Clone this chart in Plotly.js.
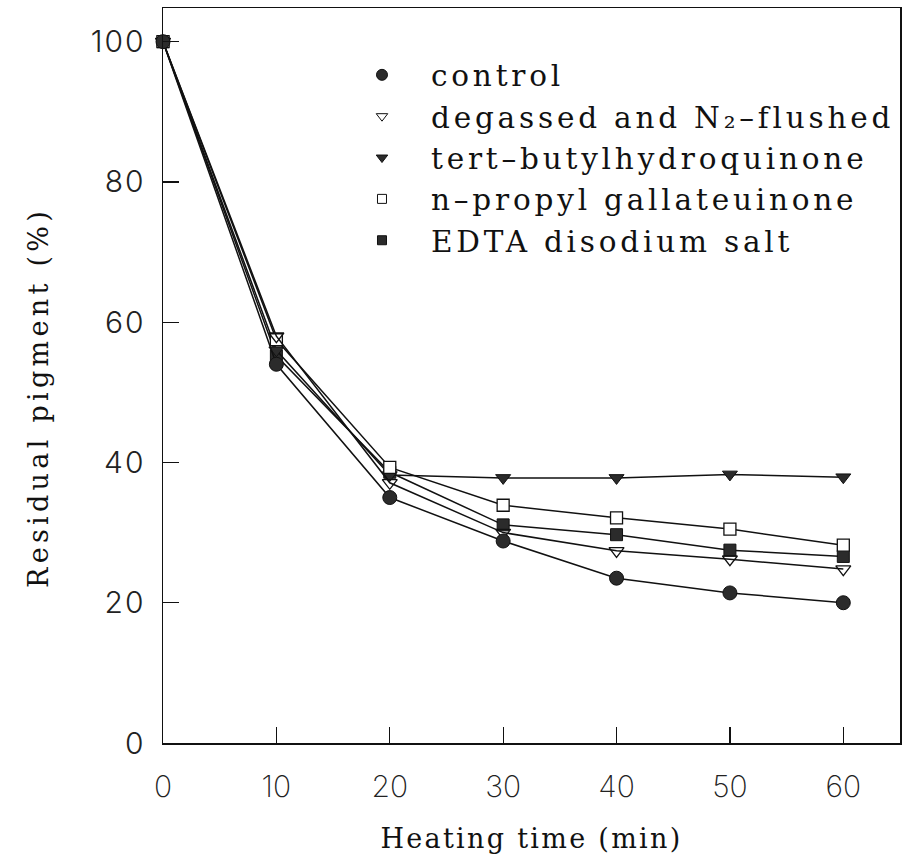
<!DOCTYPE html>
<html>
<head>
<meta charset="utf-8">
<script src="https://cdn.plot.ly/plotly-3.0.1.min.js"></script>
<style>
html,body{margin:0;padding:0;background:#fff;}
#chart{width:902px;height:866px;}
#chart .legendtext{letter-spacing:3.8px;transform:translateX(29px);}
#chart .g-xtitle text{letter-spacing:2.3px;}
#chart .annotation-text{letter-spacing:4.3px;}
#chart .ytick text{letter-spacing:2px;}
</style>
</head>
<body>
<div id="chart"></div>
<script>
const heatingTime = [0, 10, 20, 30, 40, 50, 60];
const seriesNames = ["control", "degassed and N\u2082\u2013flushed", "tert\u2013butylhydroquinone", "n\u2013propyl gallateuinone", "EDTA disodium salt"];
const control   = [100, 54.0, 35.0, 28.8, 23.5, 21.4, 20.0];
const degassed  = [100, 58.0, 37.1, 30.0, 27.4, 26.2, 24.8];
const tbhq      = [100, 56.0, 38.2, 37.8, 37.8, 38.3, 37.9];
const propyl    = [100, 57.5, 39.3, 33.9, 32.1, 30.5, 28.2];
const edta      = [100, 55.2, 38.6, 31.1, 29.7, 27.5, 26.6];
const xTicks = [0, 10, 20, 30, 40, 50, 60];
const yTicks = [0, 20, 40, 60, 80, 100];
const xTitle = 'Heating time (min)';
const yTitle = 'Residual pigment (%)';

const seriesValues = [control, degassed, tbhq, propyl, edta];
const markerStyles = [
  {symbol: 'circle', size: 14, color: '#2b2b2b', line: {color: '#111', width: 1}},
  {symbol: 'triangle-down-open', size: 13, color: '#111', line: {color: '#111', width: 1.3}},
  {symbol: 'triangle-down', size: 13, color: '#2b2b2b', line: {color: '#111', width: 1}},
  {symbol: 'square', size: 12, color: '#ffffff', line: {color: '#111', width: 1.3}},
  {symbol: 'square', size: 12, color: '#2b2b2b', line: {color: '#111', width: 1}}
];
const legendMarkerStyles = [
  {symbol: 'circle', size: 11, color: '#2b2b2b', line: {color: '#111', width: 1}},
  {symbol: 'triangle-down-open', size: 10, color: '#111', line: {color: '#111', width: 1}},
  {symbol: 'triangle-down', size: 10, color: '#2b2b2b', line: {color: '#111', width: 1}},
  {symbol: 'square', size: 9, color: '#ffffff', line: {color: '#111', width: 1}},
  {symbol: 'square', size: 9, color: '#2b2b2b', line: {color: '#111', width: 1}}
];

const drawOrder = [4, 2, 3, 1, 0];
const traces = [];
drawOrder.forEach(i => {
  traces.push({
    x: heatingTime, y: seriesValues[i], type: 'scatter', mode: 'lines+markers',
    name: seriesNames[i], showlegend: false, cliponaxis: false,
    line: {color: '#111', width: 1.5},
    marker: markerStyles[i]
  });
});
seriesNames.forEach((n, i) => {
  traces.push({
    x: [null], y: [null], type: 'scatter', mode: 'markers', name: n,
    showlegend: true, marker: legendMarkerStyles[i]
  });
});

const serif = 'DejaVu Serif';
const layout = {
  width: 902, height: 866,
  margin: {l: 163, r: 2, t: 8, b: 123},
  paper_bgcolor: '#fff', plot_bgcolor: '#fff',
  showlegend: true,
  legend: {
    x: 0.27, y: 0.944, xanchor: 'left', yanchor: 'top',
    bgcolor: 'rgba(0,0,0,0)', borderwidth: 0,
    font: {family: serif, size: 29.5, color: '#111'},
    itemwidth: 30, tracegroupgap: 0
  },
  xaxis: {
    range: [0, 65], tickvals: xTicks, ticktext: xTicks.map(String),
    ticks: 'inside', ticklen: 16, tickwidth: 1.3, tickcolor: '#111',
    showline: true, linecolor: '#111', linewidth: 1.5, mirror: true,
    showgrid: false, zeroline: false,
    tickfont: {family: 'Inter', size: 30, color: '#222', weight: 200},
    ticklabelstandoff: 16,
    title: {text: xTitle, font: {family: serif, size: 27, color: '#111'}, standoff: 26}
  },
  yaxis: {
    range: [0, 104.8], tickvals: yTicks, ticktext: yTicks.map(String),
    ticks: 'inside', ticklen: 16, tickwidth: 1.3, tickcolor: '#111',
    showline: true, linecolor: '#111', linewidth: 1.5, mirror: true,
    showgrid: false, zeroline: false,
    tickfont: {family: 'Inter', size: 30, color: '#222', weight: 300},
    ticklabelstandoff: 10
  },
  annotations: [{
    text: yTitle, xref: 'paper', yref: 'paper', x: -0.169, y: 0.47,
    xanchor: 'center', yanchor: 'middle', textangle: -90, showarrow: false,
    font: {family: serif, size: 27, color: '#111'}
  }]
};

Plotly.newPlot('chart', traces, layout, {displayModeBar: false, staticPlot: true}).then(gd => {
  gd.querySelectorAll('.legend [clip-path]').forEach(el => el.removeAttribute('clip-path'));
});
</script>
</body>
</html>
